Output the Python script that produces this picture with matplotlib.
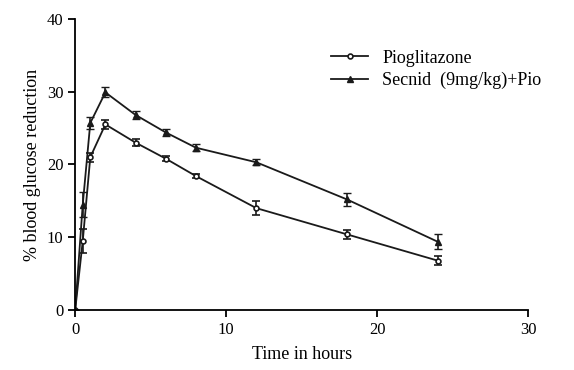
import matplotlib.pyplot as plt
from matplotlib.lines import Line2D

plt.rcParams['font.family'] = ['Liberation Serif', 'DejaVu Serif']

time_h = [0, 0.5, 1, 2, 4, 6, 8, 12, 18, 24]
pio = [0, 9.5, 21.0, 25.5, 23.0, 20.8, 18.4, 14.0, 10.4, 6.8]
pio_err = [0, 1.6, 0.6, 0.6, 0.5, 0.3, 0.3, 1.0, 0.6, 0.6]
sec = [0, 14.5, 25.7, 29.9, 26.8, 24.4, 22.3, 20.3, 15.2, 9.4]
sec_err = [0, 1.7, 0.8, 0.7, 0.6, 0.5, 0.5, 0.4, 0.9, 1.0]
labels = ['Pioglitazone', 'Secnid  (9mg/kg)+Pio']

fig = plt.figure(figsize=(5.74, 3.7), dpi=100)
ax = fig.add_axes([0.131, 0.162, 0.789, 0.787])

c = '#1a1a1a'
ax.errorbar(time_h, pio, yerr=pio_err, color=c, lw=1.3, marker='o',
            ms=3.5, mfc='white', mec=c, mew=1.2, capsize=3, elinewidth=1.2)
ax.errorbar(time_h, sec, yerr=sec_err, color=c, lw=1.3, marker='^',
            ms=4, capsize=3, elinewidth=1.2)

ax.set_xlim(0, 30)
ax.set_ylim(0, 40)
ax.set_xticks([0, 10, 20, 30])
ax.set_yticks([0, 10, 20, 30, 40])
ax.spines['top'].set_visible(False)
ax.spines['right'].set_visible(False)
for s in ['left', 'bottom']:
    ax.spines[s].set_linewidth(1.3)
ax.tick_params(labelsize=12, width=1.3, length=5)
ax.set_xlabel('Time in hours', fontsize=13, labelpad=6)
ax.set_ylabel('% blood glucose reduction', fontsize=13)

handles = [Line2D([], [], color=c, lw=1.3, marker='o', ms=3.5, mfc='white', mew=1.2),
           Line2D([], [], color=c, lw=1.3, marker='^', ms=4)]
ax.legend(handles, labels, loc='upper left', bbox_to_anchor=(0.53, 0.95),
          frameon=False, fontsize=13, handlelength=2, labelspacing=0.3)

fig.savefig('out.png', dpi=100)
